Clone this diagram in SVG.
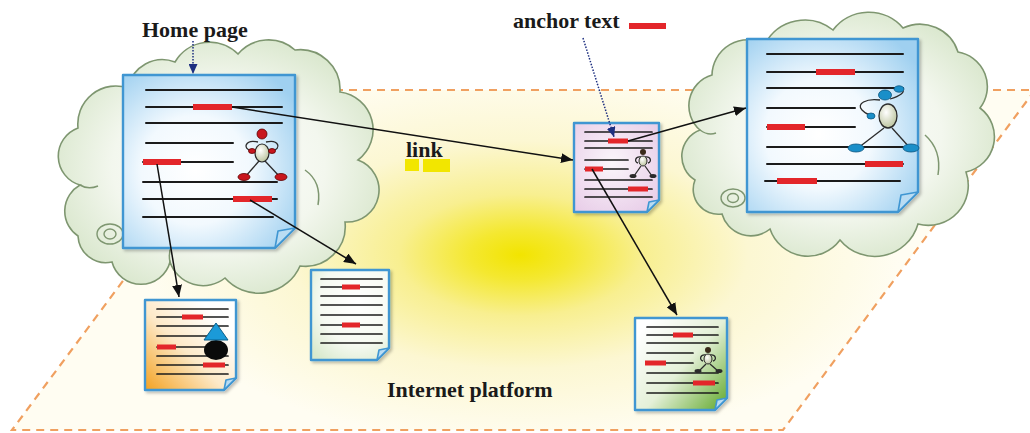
<svg xmlns="http://www.w3.org/2000/svg" width="1030" height="433" viewBox="0 0 1030 433">
  <style>
    .lbl { font-family: "Liberation Serif", "Times New Roman", serif; font-weight: bold; font-size: 22px; fill: #1a1a1a; }
    .cloud { stroke: #7e9670; stroke-width: 1.6; fill: url(#cloudFill); }
    .cloudLine { stroke: #7e9670; stroke-width: 1.5; fill: none; }
    .page { stroke: #3f96d2; stroke-width: 2.4; stroke-linejoin: round; }
    .fold { fill: #b9dcf3; stroke: #3f96d2; stroke-width: 1.6; stroke-linejoin: round; }
    .txt { stroke: #1b1b1b; stroke-width: 2; stroke-linecap: round; }
    .txtS { stroke: #1b1b1b; stroke-width: 1.7; stroke-linecap: round; }
    .anchor { stroke: #e3262a; stroke-width: 6; stroke-linecap: butt; }
    .anchorS { stroke: #e3262a; stroke-width: 5; stroke-linecap: butt; }
    .link { stroke: #111; stroke-width: 1.5; fill: none; marker-end: url(#arrow); }
    .pointer { stroke: #1d2f80; stroke-width: 1.5; stroke-dasharray: 1.5 1.5; fill: none; marker-end: url(#arrowNavy); }
    .limb { stroke: #2b2b2b; stroke-width: 1.3; fill: none; }
  </style>
  <defs>
    <radialGradient id="glow" gradientUnits="userSpaceOnUse" cx="520" cy="255" r="380" gradientTransform="translate(520 255) scale(1 0.5) translate(-520 -255)">
      <stop offset="0" stop-color="#f2e400"/>
      <stop offset="0.13" stop-color="#f4e830"/>
      <stop offset="0.32" stop-color="#f8ef90"/>
      <stop offset="0.6" stop-color="#fcf7d2"/>
      <stop offset="1" stop-color="#fffdf2"/>
    </radialGradient>
    <radialGradient id="cloudFill" cx="0.5" cy="0.5" r="0.6">
      <stop offset="0" stop-color="#ffffff"/>
      <stop offset="0.55" stop-color="#f3f7ee"/>
      <stop offset="1" stop-color="#d3e3c5"/>
    </radialGradient>
    <radialGradient id="bluePage" cx="0.42" cy="0.55" r="0.7">
      <stop offset="0" stop-color="#ffffff"/>
      <stop offset="0.45" stop-color="#f2f9fe"/>
      <stop offset="1" stop-color="#9fd0f0"/>
    </radialGradient>
    <radialGradient id="pinkPage" cx="0.45" cy="0.45" r="0.75">
      <stop offset="0" stop-color="#fbf6fb"/>
      <stop offset="1" stop-color="#e6c9e6"/>
    </radialGradient>
    <linearGradient id="orangePage" x1="0" y1="1" x2="0.8" y2="0.2">
      <stop offset="0" stop-color="#f3a120"/>
      <stop offset="0.55" stop-color="#fde9c8"/>
      <stop offset="1" stop-color="#ffffff"/>
    </linearGradient>
    <linearGradient id="greenPage" x1="0.1" y1="0.1" x2="1" y2="0.9">
      <stop offset="0" stop-color="#ffffff"/>
      <stop offset="0.5" stop-color="#e4f0d8"/>
      <stop offset="1" stop-color="#6cae3a"/>
    </linearGradient>
    <radialGradient id="mintPage" cx="0.6" cy="0.35" r="0.8">
      <stop offset="0" stop-color="#ffffff"/>
      <stop offset="0.6" stop-color="#f6faf2"/>
      <stop offset="1" stop-color="#d8e9cc"/>
    </radialGradient>
    <radialGradient id="bodyFill" cx="0.4" cy="0.35" r="0.7">
      <stop offset="0" stop-color="#ffffff"/>
      <stop offset="1" stop-color="#b9c29a"/>
    </radialGradient>
    <filter id="shadow" x="-10%" y="-10%" width="125%" height="125%">
      <feDropShadow dx="2" dy="2" stdDeviation="1.5" flood-color="#000" flood-opacity="0.25"/>
    </filter>
    <marker id="arrow" viewBox="0 0 12 10" refX="12" refY="5" markerWidth="12" markerHeight="10" markerUnits="userSpaceOnUse" orient="auto">
      <path d="M0,0 L12,5 L0,10 Z" fill="#111"/>
    </marker>
    <marker id="arrowNavy" viewBox="0 0 10 9" refX="10" refY="4.5" markerWidth="10" markerHeight="9" markerUnits="userSpaceOnUse" orient="auto">
      <path d="M0,0 L10,4.5 L0,9 Z" fill="#1d2f80"/>
    </marker>
  </defs>

  <rect width="1030" height="433" fill="#ffffff"/>

  <!-- platform plane -->
  <g id="platform">
    <path d="M265,90 H1035 L783,430 H12 Z" fill="url(#glow)" stroke="#f0a060" stroke-width="2.2" stroke-dasharray="8 6"/>
    <text class="lbl" x="387" y="397">Internet platform</text>
  </g>

  <!-- cloud around the home page -->
  <g id="home-cloud">
    <path class="cloud" d="M80,185 A30,30 0 0 1 78,128 A38,38 0 0 1 128,88 A35,35 0 0 1 175,62 A40,40 0 0 1 238,54 A40,40 0 0 1 295,50 A40,40 0 0 1 340,92 A38,38 0 0 1 358,160 A32,32 0 0 1 345,222 A40,40 0 0 1 300,266 A45,45 0 0 1 225,278 A35,35 0 0 1 170,262 A30,30 0 0 1 112,262 A28,28 0 0 1 78,236 A30,30 0 0 1 80,185 Z"/>
    <path class="cloudLine" d="M305,170 Q322,182 318,205"/>
    <path class="cloudLine" d="M80,185 Q88,190 98,186"/>
    <path class="cloudLine" d="M170,262 Q168,252 172,245"/>
    <ellipse cx="110" cy="234" rx="13" ry="10" fill="none" stroke="#7e9670" stroke-width="1.4"/>
    <ellipse cx="110" cy="234" rx="6" ry="5" fill="none" stroke="#7e9670" stroke-width="1.4"/>
  </g>

  <!-- cloud around the linked page -->
  <g id="remote-cloud">
    <path class="cloud" d="M700,130 A32,32 0 0 1 712,75 A36,36 0 0 1 765,44 A45,45 0 0 1 833,30 A45,45 0 0 1 903,28 A40,40 0 0 1 958,52 A35,35 0 0 1 980,108 A36,36 0 0 1 966,172 A40,40 0 0 1 918,224 A45,45 0 0 1 840,240 A40,40 0 0 1 770,229 A30,30 0 0 1 722,214 A25,25 0 0 1 695,180 A28,28 0 0 1 700,130 Z"/>
    <path class="cloudLine" d="M925,135 Q942,150 938,175"/>
    <path class="cloudLine" d="M700,130 Q708,136 716,133"/>
    <ellipse cx="733" cy="198" rx="12" ry="9" fill="none" stroke="#7e9670" stroke-width="1.4"/>
    <ellipse cx="733" cy="198" rx="5.5" ry="4.5" fill="none" stroke="#7e9670" stroke-width="1.4"/>
  </g>

  <!-- home page document -->
  <g id="home-page">
    <path class="page" d="M123,75 H295 V228 L275,248 H123 Z" fill="url(#bluePage)" filter="url(#shadow)"/>
    <path class="fold" d="M295,228 L275,248 L278,231 Z"/>
    <g>
      <line class="txt" x1="146" y1="90" x2="282" y2="90"/>
      <line class="txt" x1="146" y1="107" x2="282" y2="107"/>
      <line class="txt" x1="146" y1="123" x2="282" y2="123"/>
      <line class="txt" x1="146" y1="143" x2="233" y2="143"/>
      <line class="txt" x1="143" y1="162" x2="233" y2="162"/>
      <line class="txt" x1="143" y1="182" x2="277" y2="182"/>
      <line class="txt" x1="143" y1="199" x2="277" y2="199"/>
      <line class="txt" x1="143" y1="217" x2="273" y2="217"/>
      <line class="anchor" x1="193" y1="107" x2="232" y2="107"/>
      <line class="anchor" x1="143" y1="162" x2="181" y2="162"/>
      <line class="anchor" x1="233" y1="199" x2="272" y2="199"/>
    </g>
    <!-- red figure -->
    <g>
      <path class="limb" d="M258,142 C245,139 242,149 252,151"/>
      <path class="limb" d="M266,142 C279,139 282,149 272,151"/>
      <line class="limb" x1="259" y1="161" x2="245" y2="177"/>
      <line class="limb" x1="265" y1="161" x2="280" y2="177"/>
      <ellipse cx="262" cy="153" rx="7" ry="9" fill="url(#bodyFill)" stroke="#2b2b2b" stroke-width="1.2"/>
      <circle cx="262" cy="134" r="5" fill="#c8161d" stroke="#5a0000" stroke-width="0.8"/>
      <ellipse cx="252" cy="151" rx="3.5" ry="2.5" fill="#c8161d" stroke="#5a0000" stroke-width="0.8"/>
      <ellipse cx="272" cy="151" rx="3.5" ry="2.5" fill="#c8161d" stroke="#5a0000" stroke-width="0.8"/>
      <ellipse cx="244" cy="177" rx="6" ry="3.5" fill="#c8161d" stroke="#5a0000" stroke-width="0.8"/>
      <ellipse cx="281" cy="177" rx="6" ry="3.5" fill="#c8161d" stroke="#5a0000" stroke-width="0.8"/>
    </g>
    <text class="lbl" x="142" y="37">Home page</text>
  </g>

  <!-- linked page inside the right cloud -->
  <g id="remote-page">
    <path class="page" d="M747,39 H918 V192 L898,212 H747 Z" fill="url(#bluePage)" filter="url(#shadow)"/>
    <path class="fold" d="M918,192 L898,212 L901,195 Z"/>
    <g>
      <line class="txt" x1="767" y1="54" x2="903" y2="54"/>
      <line class="txt" x1="767" y1="72" x2="903" y2="72"/>
      <line class="txt" x1="767" y1="88" x2="903" y2="88"/>
      <line class="txt" x1="767" y1="108" x2="855" y2="108"/>
      <line class="txt" x1="767" y1="127" x2="855" y2="127"/>
      <line class="txt" x1="767" y1="147" x2="903" y2="147"/>
      <line class="txt" x1="767" y1="164" x2="903" y2="164"/>
      <line class="txt" x1="765" y1="181" x2="900" y2="181"/>
      <line class="anchor" x1="816" y1="72" x2="855" y2="72"/>
      <line class="anchor" x1="767" y1="127" x2="805" y2="127"/>
      <line class="anchor" x1="865" y1="164" x2="903" y2="164"/>
      <line class="anchor" x1="777" y1="181" x2="817" y2="181"/>
    </g>
    <!-- blue figure -->
    <g>
      <path class="limb" d="M880,100 C866,98 856,104 862,110 C866,114 870,115 872,115"/>
      <path class="limb" d="M890,99 C900,96 906,92 902,89"/>
      <line class="limb" x1="884" y1="128" x2="858" y2="148"/>
      <line class="limb" x1="892" y1="128" x2="910" y2="148"/>
      <ellipse cx="888" cy="116" rx="9" ry="12" fill="url(#bodyFill)" stroke="#2b2b2b" stroke-width="1.3"/>
      <ellipse cx="885" cy="95" rx="6.5" ry="5" fill="#1a8fc9" stroke="#0b5680" stroke-width="0.8"/>
      <ellipse cx="899" cy="89" rx="5" ry="3.2" fill="#1a8fc9" stroke="#0b5680" stroke-width="0.8"/>
      <ellipse cx="871" cy="116" rx="4" ry="3" fill="#1a8fc9" stroke="#0b5680" stroke-width="0.8"/>
      <ellipse cx="856" cy="148" rx="8" ry="4" fill="#1a8fc9" stroke="#0b5680" stroke-width="0.8"/>
      <ellipse cx="911" cy="148" rx="8" ry="4" fill="#1a8fc9" stroke="#0b5680" stroke-width="0.8"/>
    </g>
  </g>

  <!-- page holding the anchor -->
  <g id="anchor-page">
    <path class="page" d="M574,123 H659 V200 L647,212 H574 Z" fill="url(#pinkPage)" filter="url(#shadow)"/>
    <path class="fold" d="M659,200 L647,212 L649,202 Z"/>
    <g>
      <line class="txtS" x1="585" y1="132" x2="652" y2="132"/>
      <line class="txtS" x1="585" y1="141" x2="652" y2="141"/>
      <line class="txtS" x1="585" y1="148" x2="652" y2="148"/>
      <line class="txtS" x1="585" y1="160" x2="628" y2="160"/>
      <line class="txtS" x1="585" y1="169" x2="628" y2="169"/>
      <line class="txtS" x1="585" y1="180" x2="652" y2="180"/>
      <line class="txtS" x1="585" y1="189" x2="652" y2="189"/>
      <line class="txtS" x1="585" y1="197" x2="652" y2="197"/>
      <line class="anchorS" x1="608" y1="141" x2="628" y2="141"/>
      <line class="anchorS" x1="585" y1="169" x2="603" y2="169"/>
      <line class="anchorS" x1="628" y1="189" x2="648" y2="189"/>
    </g>
    <g>
      <path class="limb" d="M641,157 C635,156 634,162 638,163"/>
      <path class="limb" d="M645,157 C651,156 652,162 648,163"/>
      <line class="limb" x1="641" y1="166" x2="634" y2="176"/>
      <line class="limb" x1="645" y1="166" x2="652" y2="176"/>
      <ellipse cx="643" cy="161" rx="4" ry="5" fill="url(#bodyFill)" stroke="#2b2b2b" stroke-width="1"/>
      <circle cx="643" cy="152" r="3" fill="#3a2a1a"/>
      <ellipse cx="633" cy="176" rx="3.5" ry="2" fill="#2b2b2b"/>
      <ellipse cx="653" cy="176" rx="3.5" ry="2" fill="#2b2b2b"/>
    </g>
  </g>

  <!-- orange page -->
  <g id="orange-page">
    <path class="page" d="M145,300 H236 V378 L224,390 H145 Z" fill="url(#orangePage)" filter="url(#shadow)"/>
    <path class="fold" d="M236,378 L224,390 L226,380 Z"/>
    <g>
      <line class="txtS" x1="157" y1="309" x2="228" y2="309"/>
      <line class="txtS" x1="157" y1="317" x2="228" y2="317"/>
      <line class="txtS" x1="157" y1="326" x2="228" y2="326"/>
      <line class="txtS" x1="157" y1="336" x2="215" y2="336"/>
      <line class="txtS" x1="157" y1="347" x2="215" y2="347"/>
      <line class="txtS" x1="157" y1="356" x2="228" y2="356"/>
      <line class="txtS" x1="157" y1="365" x2="228" y2="365"/>
      <line class="txtS" x1="157" y1="374" x2="228" y2="374"/>
      <line class="anchorS" x1="182" y1="317" x2="203" y2="317"/>
      <line class="anchorS" x1="157" y1="347" x2="176" y2="347"/>
      <line class="anchorS" x1="203" y1="365" x2="225" y2="365"/>
    </g>
    <ellipse cx="216" cy="350" rx="12" ry="10" fill="#0a0a0a"/>
    <path d="M216,323 L204,340 L228,340 Z" fill="#1b9ad8" stroke="#0b5f8a" stroke-width="1" stroke-linejoin="round"/>
  </g>

  <!-- middle page -->
  <g id="plain-page">
    <path class="page" d="M311,270 H389 V348 L377,360 H311 Z" fill="url(#mintPage)" filter="url(#shadow)"/>
    <path class="fold" d="M389,348 L377,360 L379,350 Z"/>
    <g>
      <line class="txtS" x1="321" y1="279" x2="382" y2="279"/>
      <line class="txtS" x1="321" y1="287" x2="382" y2="287"/>
      <line class="txtS" x1="321" y1="296" x2="382" y2="296"/>
      <line class="txtS" x1="321" y1="305" x2="382" y2="305"/>
      <line class="txtS" x1="321" y1="315" x2="382" y2="315"/>
      <line class="txtS" x1="321" y1="325" x2="382" y2="325"/>
      <line class="txtS" x1="321" y1="334" x2="382" y2="334"/>
      <line class="txtS" x1="321" y1="343" x2="382" y2="343"/>
      <line class="anchorS" x1="342" y1="287" x2="360" y2="287"/>
      <line class="anchorS" x1="342" y1="325" x2="360" y2="325"/>
    </g>
  </g>

  <!-- green page -->
  <g id="green-page">
    <path class="page" d="M635,318 H727 V398 L715,410 H635 Z" fill="url(#greenPage)" filter="url(#shadow)"/>
    <path class="fold" d="M727,398 L715,410 L717,400 Z"/>
    <g>
      <line class="txtS" x1="647" y1="327" x2="718" y2="327"/>
      <line class="txtS" x1="647" y1="335" x2="718" y2="335"/>
      <line class="txtS" x1="647" y1="343" x2="718" y2="343"/>
      <line class="txtS" x1="647" y1="353" x2="693" y2="353"/>
      <line class="txtS" x1="647" y1="363" x2="693" y2="363"/>
      <line class="txtS" x1="647" y1="373" x2="718" y2="373"/>
      <line class="txtS" x1="647" y1="383" x2="718" y2="383"/>
      <line class="txtS" x1="647" y1="393" x2="718" y2="393"/>
      <line class="anchorS" x1="673" y1="335" x2="693" y2="335"/>
      <line class="anchorS" x1="645" y1="363" x2="666" y2="363"/>
      <line class="anchorS" x1="693" y1="383" x2="715" y2="383"/>
    </g>
    <g>
      <path class="limb" d="M706,355 C700,354 699,360 703,361"/>
      <path class="limb" d="M710,355 C716,354 717,360 713,361"/>
      <line class="limb" x1="706" y1="364" x2="699" y2="371"/>
      <line class="limb" x1="710" y1="364" x2="718" y2="371"/>
      <ellipse cx="708" cy="359" rx="4" ry="5" fill="url(#bodyFill)" stroke="#2b2b2b" stroke-width="1"/>
      <circle cx="708" cy="350" r="3" fill="#3a2a1a"/>
      <ellipse cx="698" cy="371" rx="3.5" ry="2" fill="#2b2b2b"/>
      <ellipse cx="719" cy="371" rx="3.5" ry="2" fill="#2b2b2b"/>
    </g>
  </g>

  <!-- link label with highlight -->
  <g id="link-label">
    <rect x="405" y="159" width="14" height="12" fill="#f2e600"/>
    <rect x="423" y="159" width="27" height="13" fill="#f2e600"/>
    <text class="lbl" x="406" y="157">link</text>
  </g>

  <!-- anchor text legend -->
  <g id="anchor-legend">
    <text class="lbl" x="513" y="28">anchor text</text>
    <rect x="629" y="23" width="37" height="6" fill="#e3262a"/>
  </g>

  <!-- connectors -->
  <g id="connectors">
    <line class="pointer" x1="193" y1="41" x2="193" y2="74"/>
    <line class="pointer" x1="583" y1="38" x2="614" y2="137"/>
    <line class="link" x1="232" y1="107" x2="573" y2="160"/>
    <line class="link" x1="157" y1="164" x2="179" y2="297"/>
    <line class="link" x1="250" y1="200" x2="356" y2="264"/>
    <line class="link" x1="628" y1="141" x2="746" y2="108"/>
    <line class="link" x1="592" y1="169" x2="677" y2="315"/>
  </g>
</svg>
